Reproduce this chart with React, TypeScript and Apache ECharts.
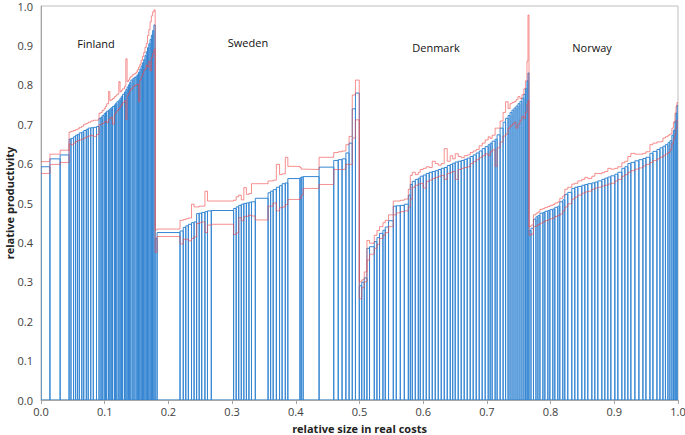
import React, { useEffect, useRef } from "react";
import * as echarts from "echarts";

// Relative size of each unit (per-mille of total real costs), productivity and its lower/upper bounds
const finlandSize = [14, 16, 14, 3, 4, 3, 3, 3, 4, 3, 4, 3, 4, 4, 5, 4, 3, 2, 3, 2, 2, 3, 2, 2, 2, 3, 2, 2, 3, 2, 2, 2, 3, 2, 2, 2, 2, 2, 3, 2, 3, 2, 2, 2, 2, 2, 2, 2, 2, 2, 2, 2, 2, 2, 2, 2];
const finlandProd = [0.592, 0.612, 0.622, 0.662, 0.664, 0.668, 0.672, 0.674, 0.678, 0.68, 0.684, 0.687, 0.69, 0.691, 0.692, 0.694, 0.715, 0.718, 0.722, 0.727, 0.73, 0.733, 0.736, 0.739, 0.742, 0.745, 0.749, 0.753, 0.757, 0.761, 0.766, 0.771, 0.776, 0.782, 0.788, 0.794, 0.8, 0.806, 0.812, 0.816, 0.819, 0.822, 0.826, 0.832, 0.84, 0.848, 0.856, 0.864, 0.874, 0.884, 0.894, 0.904, 0.915, 0.926, 0.938, 0.952];
const finlandLow = [0.575, 0.598, 0.603, 0.65, 0.648, 0.652, 0.656, 0.658, 0.66, 0.662, 0.665, 0.668, 0.67, 0.672, 0.669, 0.674, 0.699, 0.7, 0.702, 0.706, 0.708, 0.704, 0.712, 0.715, 0.718, 0.7, 0.725, 0.73, 0.735, 0.74, 0.745, 0.75, 0.755, 0.76, 0.712, 0.772, 0.778, 0.785, 0.79, 0.795, 0.798, 0.8, 0.802, 0.757, 0.812, 0.82, 0.828, 0.836, 0.84, 0.85, 0.845, 0.86, 0.835, 0.87, 0.88, 0.89];
const finlandHigh = [0.605, 0.624, 0.634, 0.68, 0.682, 0.684, 0.686, 0.688, 0.692, 0.695, 0.7, 0.702, 0.705, 0.708, 0.71, 0.711, 0.728, 0.73, 0.735, 0.74, 0.745, 0.752, 0.783, 0.76, 0.762, 0.765, 0.77, 0.772, 0.776, 0.808, 0.782, 0.786, 0.79, 0.796, 0.866, 0.808, 0.812, 0.818, 0.822, 0.826, 0.828, 0.832, 0.838, 0.845, 0.852, 0.862, 0.872, 0.882, 0.895, 0.905, 0.925, 0.94, 0.96, 0.975, 0.985, 0.99];

const swedenSize = [3, 36, 5, 4, 4, 5, 4, 4, 4, 4, 5, 4, 6, 35, 4, 4, 4, 4, 4, 4, 4, 6, 20, 4, 4, 5, 5, 4, 5, 4, 19, 2, 3, 25, 23, 7, 6, 6, 5, 5, 5, 6];
const swedenProd = [0.41, 0.425, 0.429, 0.438, 0.442, 0.446, 0.45, 0.452, 0.473, 0.474, 0.476, 0.478, 0.48, 0.481, 0.486, 0.49, 0.494, 0.497, 0.499, 0.5, 0.502, 0.503, 0.512, 0.526, 0.53, 0.534, 0.54, 0.544, 0.549, 0.551, 0.562, 0.564, 0.566, 0.567, 0.591, 0.608, 0.61, 0.612, 0.627, 0.652, 0.739, 0.779];
const swedenLow = [0.375, 0.415, 0.396, 0.408, 0.408, 0.404, 0.41, 0.414, 0.448, 0.45, 0.452, 0.425, 0.444, 0.446, 0.42, 0.424, 0.463, 0.455, 0.466, 0.467, 0.469, 0.467, 0.457, 0.492, 0.492, 0.5, 0.48, 0.488, 0.49, 0.496, 0.509, 0.512, 0.52, 0.537, 0.547, 0.585, 0.585, 0.586, 0.598, 0.598, 0.665, 0.711];
const swedenHigh = [0.432, 0.434, 0.456, 0.458, 0.46, 0.462, 0.497, 0.49, 0.49, 0.492, 0.492, 0.53, 0.505, 0.505, 0.507, 0.516, 0.52, 0.508, 0.539, 0.522, 0.524, 0.549, 0.549, 0.556, 0.556, 0.558, 0.598, 0.572, 0.574, 0.616, 0.593, 0.59, 0.586, 0.585, 0.616, 0.628, 0.63, 0.632, 0.648, 0.669, 0.774, 0.812];

const denmarkSize = [3.9, 3.9, 4.2, 4.1, 7.4, 4.2, 4.1, 5.3, 3.6, 5.2, 7.4, 4.7, 6.3, 6.3, 6.3, 3.1, 3.1, 4.7, 4.7, 3.1, 4.7, 4.7, 4.7, 4.7, 4.7, 4.7, 4.7, 4.7, 4.7, 4.7, 3.9, 3.9, 4.7, 4.7, 4.7, 4.7, 4.7, 4.7, 4.7, 4.7, 4.7, 4.7, 4.7, 3.1, 3.1, 4.7, 3.1, 4.7, 4.7, 3.9, 3.9, 3.1, 3.1, 3.1, 3.1, 3.1, 3.1, 3.1, 3.1, 2.4, 2.4, 1.6, 1.6];
const denmarkProd = [0.29, 0.299, 0.31, 0.385, 0.389, 0.402, 0.412, 0.423, 0.431, 0.439, 0.455, 0.492, 0.493, 0.494, 0.497, 0.52, 0.547, 0.555, 0.56, 0.563, 0.568, 0.571, 0.575, 0.578, 0.58, 0.582, 0.585, 0.588, 0.59, 0.595, 0.598, 0.601, 0.604, 0.606, 0.608, 0.611, 0.614, 0.618, 0.622, 0.627, 0.632, 0.638, 0.643, 0.648, 0.652, 0.657, 0.662, 0.673, 0.69, 0.705, 0.715, 0.722, 0.73, 0.736, 0.741, 0.746, 0.752, 0.758, 0.766, 0.776, 0.79, 0.81, 0.83];
const denmarkLow = [0.257, 0.285, 0.3, 0.355, 0.37, 0.385, 0.395, 0.41, 0.418, 0.425, 0.44, 0.47, 0.475, 0.478, 0.48, 0.49, 0.51, 0.54, 0.545, 0.548, 0.55, 0.538, 0.555, 0.558, 0.562, 0.565, 0.568, 0.57, 0.56, 0.575, 0.578, 0.58, 0.56, 0.585, 0.588, 0.59, 0.592, 0.6, 0.605, 0.61, 0.615, 0.62, 0.625, 0.62, 0.63, 0.635, 0.593, 0.64, 0.655, 0.67, 0.675, 0.69, 0.695, 0.7, 0.705, 0.69, 0.7, 0.71, 0.72, 0.715, 0.73, 0.75, 0.76];
const denmarkHigh = [0.3, 0.305, 0.325, 0.405, 0.398, 0.418, 0.43, 0.44, 0.45, 0.456, 0.47, 0.505, 0.505, 0.507, 0.51, 0.535, 0.57, 0.578, 0.572, 0.578, 0.585, 0.588, 0.592, 0.59, 0.606, 0.6, 0.596, 0.6, 0.638, 0.606, 0.62, 0.612, 0.625, 0.618, 0.615, 0.62, 0.622, 0.628, 0.632, 0.636, 0.645, 0.652, 0.66, 0.668, 0.664, 0.672, 0.69, 0.69, 0.708, 0.73, 0.757, 0.74, 0.752, 0.755, 0.757, 0.762, 0.77, 0.765, 0.775, 0.79, 0.81, 0.86, 0.977];

const norwaySize = [3.1, 3.9, 3.9, 3.1, 3.1, 4.7, 3.1, 4.7, 3.1, 4.7, 3.1, 4.7, 3.1, 4.7, 3.1, 4.7, 6.3, 4.7, 4.7, 6.3, 4.7, 4.7, 6.3, 4.7, 4.7, 6.3, 4.7, 4.7, 4.7, 6.3, 4.7, 6.3, 4.7, 4.7, 4.7, 6.3, 6.3, 6.3, 4.7, 6.3, 4.7, 6.3, 4.7, 4.7, 3.9, 3.9, 3.1, 3.1, 2.4, 2.4, 1.6, 1.6, 1.6];
const norwayProd = [0.43, 0.436, 0.459, 0.465, 0.468, 0.474, 0.476, 0.479, 0.481, 0.483, 0.485, 0.489, 0.492, 0.503, 0.508, 0.522, 0.527, 0.537, 0.54, 0.542, 0.545, 0.547, 0.549, 0.551, 0.553, 0.556, 0.56, 0.563, 0.566, 0.569, 0.573, 0.578, 0.588, 0.592, 0.6, 0.603, 0.607, 0.61, 0.613, 0.616, 0.626, 0.631, 0.636, 0.64, 0.644, 0.648, 0.653, 0.658, 0.672, 0.685, 0.708, 0.728, 0.748];
const norwayLow = [0.418, 0.421, 0.44, 0.442, 0.445, 0.449, 0.452, 0.455, 0.457, 0.46, 0.462, 0.466, 0.468, 0.472, 0.48, 0.49, 0.498, 0.51, 0.515, 0.52, 0.525, 0.528, 0.53, 0.535, 0.538, 0.54, 0.543, 0.545, 0.548, 0.55, 0.556, 0.56, 0.568, 0.572, 0.578, 0.582, 0.586, 0.589, 0.594, 0.598, 0.603, 0.608, 0.612, 0.616, 0.62, 0.624, 0.628, 0.635, 0.65, 0.662, 0.673, 0.69, 0.71];
const norwayHigh = [0.44, 0.444, 0.47, 0.474, 0.477, 0.484, 0.486, 0.489, 0.491, 0.494, 0.496, 0.5, 0.503, 0.512, 0.518, 0.535, 0.54, 0.548, 0.55, 0.556, 0.56, 0.565, 0.562, 0.568, 0.575, 0.574, 0.577, 0.58, 0.588, 0.586, 0.588, 0.592, 0.602, 0.606, 0.618, 0.626, 0.624, 0.624, 0.626, 0.63, 0.648, 0.652, 0.655, 0.656, 0.665, 0.668, 0.672, 0.675, 0.69, 0.705, 0.728, 0.745, 0.755];

const countries = ["Finland", "Sweden", "Denmark", "Norway"];
const xTicks = ["0.0", "0.1", "0.2", "0.3", "0.4", "0.5", "0.6", "0.7", "0.8", "0.9", "1.0"];

export default function App() {
  const ref = useRef<HTMLDivElement>(null);

  useEffect(() => {
    if (!ref.current) return;
    document.body.style.margin = "0";
    const chart = echarts.init(ref.current, null, { renderer: "svg" });

    const sizes = [...finlandSize, ...swedenSize, ...denmarkSize, ...norwaySize];
    const prods = [...finlandProd, ...swedenProd, ...denmarkProd, ...norwayProd];
    const lows = [...finlandLow, ...swedenLow, ...denmarkLow, ...norwayLow];
    const highs = [...finlandHigh, ...swedenHigh, ...denmarkHigh, ...norwayHigh];
    const total = sizes.reduce((a, b) => a + b, 0);

    const bars: number[][] = [];
    const hiLine: number[][] = [];
    const loLine: number[][] = [];
    let cum = 0;
    sizes.forEach((s, i) => {
      const x0 = cum / total;
      cum += s;
      const x1 = cum / total;
      bars.push([x0, x1, prods[i]]);
      hiLine.push([x0, highs[i]], [x1, highs[i]]);
      loLine.push([x0, lows[i]], [x1, lows[i]]);
    });

    const labelFont = "'Open Sans', 'Liberation Sans', sans-serif";
    const countryPos = [
      [96, 43],
      [248, 42],
      [436, 47],
      [592, 47],
    ];

    chart.setOption({
      animation: false,
      grid: {
        left: 41,
        right: 7,
        top: 6,
        bottom: 35,
        show: true,
        borderColor: "#BFBFBF",
        borderWidth: 1,
        outerBoundsMode: "none",
        containLabel: false,
      },
      xAxis: {
        type: "value",
        min: 0,
        max: 1,
        interval: 0.1,
        name: "relative size in real costs",
        nameLocation: "middle",
        nameGap: 23,
        nameMoveOverlap: false,
        nameTextStyle: { fontSize: 11, fontWeight: "bold", color: "#222", fontFamily: labelFont },
        axisLine: { show: true, lineStyle: { color: "#A6A6A6" } },
        axisTick: { show: true, length: 4, lineStyle: { color: "#A6A6A6" } },
        splitLine: { show: false },
        axisLabel: {
          fontSize: 11,
          color: "#404040",
          margin: 6,
          fontFamily: labelFont,
          formatter: (v: number) => xTicks[Math.round(v * 10)] ?? v.toFixed(1),
        },
      },
      yAxis: {
        type: "value",
        min: 0,
        max: 1,
        interval: 0.1,
        name: "relative productivity",
        nameLocation: "middle",
        nameGap: 26,
        nameMoveOverlap: false,
        nameTextStyle: { fontSize: 11, fontWeight: "bold", color: "#222", fontFamily: labelFont },
        axisLine: { show: true, lineStyle: { color: "#A6A6A6" } },
        axisTick: { show: false },
        splitLine: { show: false },
        axisLabel: {
          fontSize: 11,
          color: "#404040",
          margin: 8,
          fontFamily: labelFont,
          formatter: (v: number) => v.toFixed(1),
        },
      },
      graphic: countries.map((c, i) => ({
        type: "text",
        x: countryPos[i][0],
        y: countryPos[i][1],
        style: {
          text: c,
          fontSize: 11,
          fill: "#111",
          fontFamily: labelFont,
          align: "center",
          verticalAlign: "middle",
        },
        z: 100,
      })),
      series: [
        {
          type: "custom",
          data: bars,
          encode: { x: [0, 1], y: 2 },
          clip: true,
          renderItem: (params: any, api: any) => {
            const x0 = api.value(0);
            const x1 = api.value(1);
            const p = api.value(2);
            const a = api.coord([x0, p]);
            const b = api.coord([x1, 0]);
            return {
              type: "rect",
              shape: { x: a[0], y: a[1], width: b[0] - a[0], height: b[1] - a[1] },
              style: { fill: "none", stroke: "#3586D3", lineWidth: 1 },
            };
          },
          z: 2,
        },
        {
          type: "line",
          data: hiLine,
          symbol: "none",
          lineStyle: { color: "rgba(240,70,70,0.6)", width: 1 },
          z: 3,
        },
        {
          type: "line",
          data: loLine,
          symbol: "none",
          lineStyle: { color: "rgba(240,70,70,0.6)", width: 1 },
          z: 3,
        },
      ],
    });

    return () => chart.dispose();
  }, []);

  return <div ref={ref} style={{ width: 685, height: 435 }} />;
}
